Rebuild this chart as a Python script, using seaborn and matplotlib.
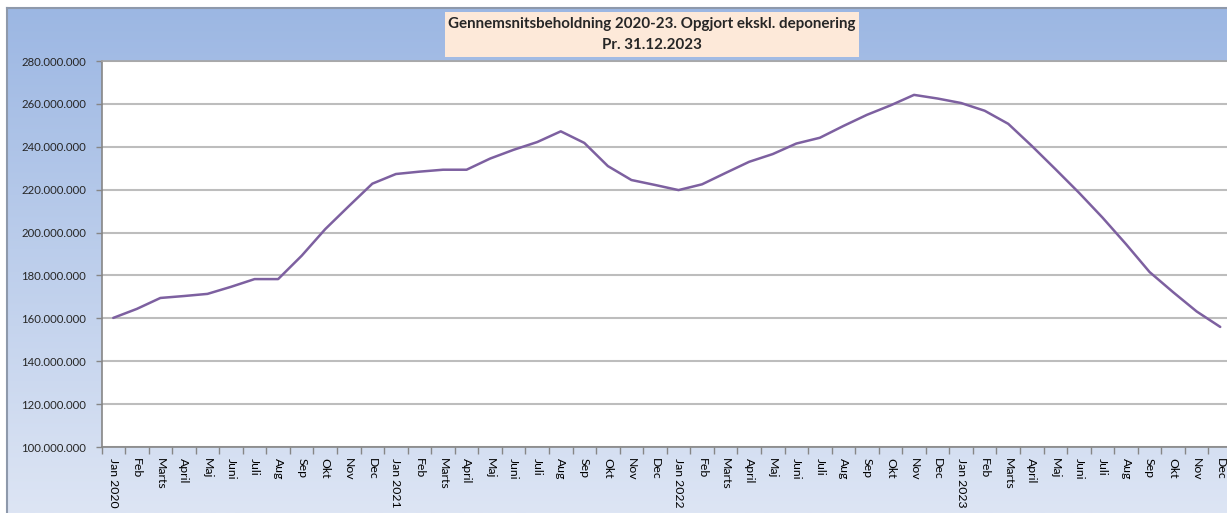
import numpy as np
import matplotlib
matplotlib.use("Agg")
import matplotlib.pyplot as plt
import matplotlib.ticker as mticker
from matplotlib.patches import Rectangle
import seaborn as sns
import pandas as pd

# Data (in kr.)
months = ["Jan 2020", "Feb", "Marts", "April", "Maj", "Juni", "Juli", "Aug", "Sep", "Okt", "Nov", "Dec",
          "Jan 2021", "Feb", "Marts", "April", "Maj", "Juni", "Juli", "Aug", "Sep", "Okt", "Nov", "Dec",
          "Jan 2022", "Feb", "Marts", "April", "Maj", "Juni", "Juli", "Aug", "Sep", "Okt", "Nov", "Dec",
          "Jan 2023", "Feb", "Marts", "April", "Maj", "Juni", "Juli", "Aug", "Sep", "Okt", "Nov", "Dec"]
values_2020 = [160.2, 164.4, 169.5, 170.4, 171.4, 174.7, 178.3, 178.3, 189.2, 201.6, 212.3, 222.8]
values_2021 = [227.3, 228.4, 229.3, 229.3, 234.5, 238.6, 242.2, 247.2, 241.8, 231.0, 224.5, 222.2]
values_2022 = [219.8, 222.5, 227.8, 233.0, 236.6, 241.5, 244.2, 249.7, 254.9, 259.3, 264.2, 262.5]
values_2023 = [260.4, 256.8, 250.7, 240.4, 229.6, 218.6, 207.0, 194.6, 181.6, 172.2, 163.2, 156.0]
y_ticks = [100, 120, 140, 160, 180, 200, 220, 240, 260, 280]
title_lines = ["Gennemsnitsbeholdning 2020-23. Opgjort ekskl. deponering", "Pr. 31.12.2023"]

values = np.array(values_2020 + values_2021 + values_2022 + values_2023) * 1e6
df = pd.DataFrame({"idx": np.arange(len(months)), "beholdning": values})

sns.set_style("white")
plt.rcParams["font.family"] = ["Lato", "DejaVu Sans"]

W, H = 1227, 513
fig = plt.figure(figsize=(W / 100, H / 100), dpi=100)
fig.patch.set_facecolor("white")

# gradient chart background
bg = fig.add_axes([7 / W, 0, 1 - 7 / W, 1 - 8 / H], zorder=0)
grad = np.linspace(0, 1, 256).reshape(-1, 1)
top_col = np.array([0x9C, 0xB7, 0xE3]) / 255
bot_col = np.array([0xDD, 0xE5, 0xF4]) / 255
img = top_col + (bot_col - top_col) * grad[:, :, None]
bg.imshow(img, aspect="auto", extent=[0, 1, 0, 1], origin="upper")
bg.set_xticks([])
bg.set_yticks([])
for s in ["right", "bottom"]:
    bg.spines[s].set_visible(False)
for s in ["left", "top"]:
    bg.spines[s].set_color("#8E99AB")
    bg.spines[s].set_linewidth(1.5)

# plot area
left, right = 101.5, 1232
top, bottom = 61, 447
ax = fig.add_axes([left / W, 1 - bottom / H, (right - left) / W, (bottom - top) / H], zorder=1)
ax.set_facecolor("white")

sns.lineplot(data=df, x="idx", y="beholdning", ax=ax, color="#7D60A0", linewidth=1.8)

ax.set_xlim(-0.5, len(months) - 0.5)
ax.set_ylim(100e6, 280e6)
ax.set_yticks([v * 1e6 for v in y_ticks])
ax.yaxis.set_major_formatter(mticker.FuncFormatter(lambda v, p: f"{int(round(v)):,}".replace(",", ".")))
ax.grid(axis="y", color="#BDBDBD", linewidth=1.5)
ax.set_axisbelow(True)

ax.set_xticks(np.arange(len(months)))
ax.set_xticklabels(months, rotation=-90, va="top", ha="center", fontsize=8.8, color="black")
ax.set_xticks(np.arange(len(months) + 1) - 0.5, minor=True)
ax.tick_params(axis="x", which="major", length=0, pad=8)
ax.tick_params(axis="x", which="minor", length=5, width=1, color="#868686", direction="out", bottom=True)
ax.tick_params(axis="y", length=4, width=1, color="#868686", direction="out", left=True, labelsize=8.2, pad=7)

for s in ["right"]:
    ax.spines[s].set_visible(False)
ax.spines["top"].set_color("#A6A6A6")
ax.spines["left"].set_color("#868686")
ax.spines["bottom"].set_color("#868686")
for s in ["left", "bottom", "top"]:
    ax.spines[s].set_linewidth(1.2)
ax.set_xlabel("")
ax.set_ylabel("")

# title box
fig.patches.append(Rectangle((445 / W, 1 - 57 / H), (859 - 445) / W, 45 / H,
                             transform=fig.transFigure, facecolor="#FDE9D9", edgecolor="none", zorder=2))
fig.text(652 / W, 1 - 24 / H, title_lines[0], ha="center", va="center", fontsize=10.9, fontweight="bold", zorder=3)
fig.text(652 / W, 1 - 45 / H, title_lines[1], ha="center", va="center", fontsize=10.9, fontweight="bold", zorder=3)

fig.savefig("out.png", dpi=100)
